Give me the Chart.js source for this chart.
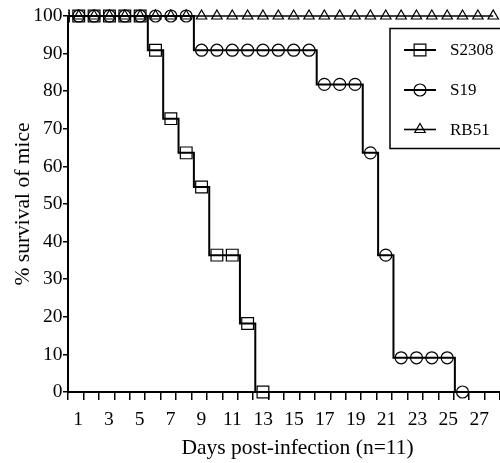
<!DOCTYPE html>
<html>
<head>
<meta charset="utf-8">
<script src="https://cdn.jsdelivr.net/npm/chart.js@4.4.1/dist/chart.umd.min.js"></script>
<style>
  body { margin: 0; background: #fff; }
  canvas { display: block; }
</style>
</head>
<body>
<canvas id="myChart" width="500" height="463"></canvas>
<script>
// survival (% of 11 mice) per day post-infection
const daysS2308 = [0, 1, 2, 3, 4, 5, 6, 7, 8, 9, 10, 11, 12, 13];
const survS2308 = [100, 100, 100, 100, 100, 100, 90.9, 72.7, 63.6, 54.5, 36.4, 36.4, 18.2, 0];

const daysS19 = [0, 1, 2, 3, 4, 5, 6, 7, 8, 9, 10, 11, 12, 13, 14, 15, 16, 17, 18, 19, 20, 21, 22, 23, 24, 25, 26];
const survS19 = [100, 100, 100, 100, 100, 100, 100, 100, 100, 90.9, 90.9, 90.9, 90.9, 90.9, 90.9, 90.9, 90.9,
                 81.8, 81.8, 81.8, 63.6, 36.4, 9.1, 9.1, 9.1, 9.1, 0];

const daysRB51 = [0, 1, 2, 3, 4, 5, 6, 7, 8, 9, 10, 11, 12, 13, 14, 15, 16, 17, 18, 19, 20, 21, 22, 23, 24, 25, 26, 27, 28];
const survRB51 = [100, 100, 100, 100, 100, 100, 100, 100, 100, 100, 100, 100, 100, 100, 100,
                  100, 100, 100, 100, 100, 100, 100, 100, 100, 100, 100, 100, 100, 100];

const dayLabels = [1, 3, 5, 7, 9, 11, 13, 15, 17, 19, 21, 23, 25, 27];
const strains = ['S2308', 'S19', 'RB51'];
const xTitle = 'Days post-infection (n=11)';
const yTitle = '% survival of mice';

const serif = 'Liberation Serif';

function pts(xs, ys) {
    return xs.map((x, i) => ({x: x, y: ys[i]}));
}

// legend box inside the plot (upper right) and the x title
const boxLegend = {
    id: 'boxLegend',
    afterDraw(chart) {
        const ctx = chart.ctx;
        ctx.save();
        ctx.fillStyle = '#fff';
        ctx.strokeStyle = '#000';
        ctx.lineWidth = 1.5;
        ctx.fillRect(390, 28.5, 120, 120);
        ctx.strokeRect(390, 28.5, 120, 120);
        const rows = [50, 90, 129.5];
        chart.data.datasets.forEach((ds, i) => {
            const y = rows[i];
            ctx.strokeStyle = '#000';
            ctx.lineWidth = ds.borderWidth;
            ctx.beginPath();
            ctx.moveTo(404, y);
            ctx.lineTo(436, y);
            ctx.stroke();
            ctx.fillStyle = 'rgba(0,0,0,0)';
            ctx.lineWidth = ds.pointBorderWidth;
            Chart.helpers.drawPoint(ctx, {
                pointStyle: ds.pointStyle,
                radius: ds.pointRadius,
                rotation: 0,
                borderWidth: ds.pointBorderWidth
            }, 420, y);
            ctx.fillStyle = '#000';
            ctx.font = '17px "' + serif + '"';
            ctx.textBaseline = 'middle';
            ctx.textAlign = 'left';
            ctx.fillText(ds.label, 450, y + 1);
        });

        ctx.fillStyle = '#000';
        ctx.font = '21.5px "' + serif + '"';
        ctx.textAlign = 'center';
        ctx.textBaseline = 'middle';
        ctx.fillText(xTitle, 297.5, 448);
        ctx.restore();
    }
};

function series(label, xs, ys, style, radius, width) {
    return {
        label: label,
        data: pts(xs, ys),
        stepped: 'middle',
        borderColor: '#000',
        borderWidth: width,
        backgroundColor: 'rgba(0,0,0,0)',
        pointStyle: style,
        pointRadius: radius,
        pointHoverRadius: radius,
        pointBorderColor: '#000',
        pointBackgroundColor: 'rgba(0,0,0,0)',
        pointBorderWidth: 1.2,
        clip: {left: 0, top: 12, right: 12, bottom: 12}
    };
}

const config = {
    type: 'line',
    data: {
        datasets: [
            series(strains[0], daysS2308, survS2308, 'rect', 8.3, 2),
            series(strains[1], daysS19, survS19, 'circle', 6, 2),
            series(strains[2], daysRB51, survRB51, 'triangle', 6, 1.6)
        ]
    },
    options: {
        responsive: false,
        animation: false,
        layout: {autoPadding: false, padding: {top: 16, right: 0, bottom: 0, left: 0}},
        plugins: {
            legend: {display: false},
            tooltip: {enabled: false}
        },
        scales: {
            x: {
                type: 'linear',
                min: 0.3,
                max: 28.44,
                afterBuildTicks: function(axis) {
                    // tick marks sit a little right of each day
                    const t = [];
                    for (let k = 0; k <= 28; k++) t.push({value: 0.3 + k * 1.005});
                    axis.ticks = t;
                },
                afterFit: function(axis) {
                    axis.height = 71;
                    axis.paddingLeft = 0;
                    axis.paddingRight = 0;
                },
                border: {display: true, color: '#000', width: 2},
                grid: {display: true, drawOnChartArea: false, drawTicks: true, tickLength: 8, color: '#000', lineWidth: 1.5},
                ticks: {
                    autoSkip: false,
                    maxRotation: 0,
                    color: '#000',
                    padding: 8,
                    labelOffset: 10,
                    font: {family: serif, size: 19.5},
                    callback: function(value) {
                        const d = Math.round(value + 0.7);
                        return dayLabels.includes(d) ? String(d) : '';
                    }
                }
            },
            y: {
                min: 0,
                max: 100,
                afterFit: function(axis) { axis.width = 68; },
                border: {display: true, color: '#000', width: 2},
                grid: {display: true, drawOnChartArea: false, drawTicks: true, tickLength: 5, color: '#000', lineWidth: 1.5},
                ticks: {
                    stepSize: 10,
                    color: '#000',
                    padding: 0.5,
                    font: {family: serif, size: 19.5}
                },
                title: {
                    display: true,
                    text: yTitle,
                    color: '#000',
                    font: {family: serif, size: 21.5},
                    padding: {top: 10, bottom: 0}
                }
            }
        }
    },
    plugins: [boxLegend]
};

const ctx = document.getElementById('myChart').getContext('2d');
new Chart(ctx, config);
</script>
</body>
</html>
